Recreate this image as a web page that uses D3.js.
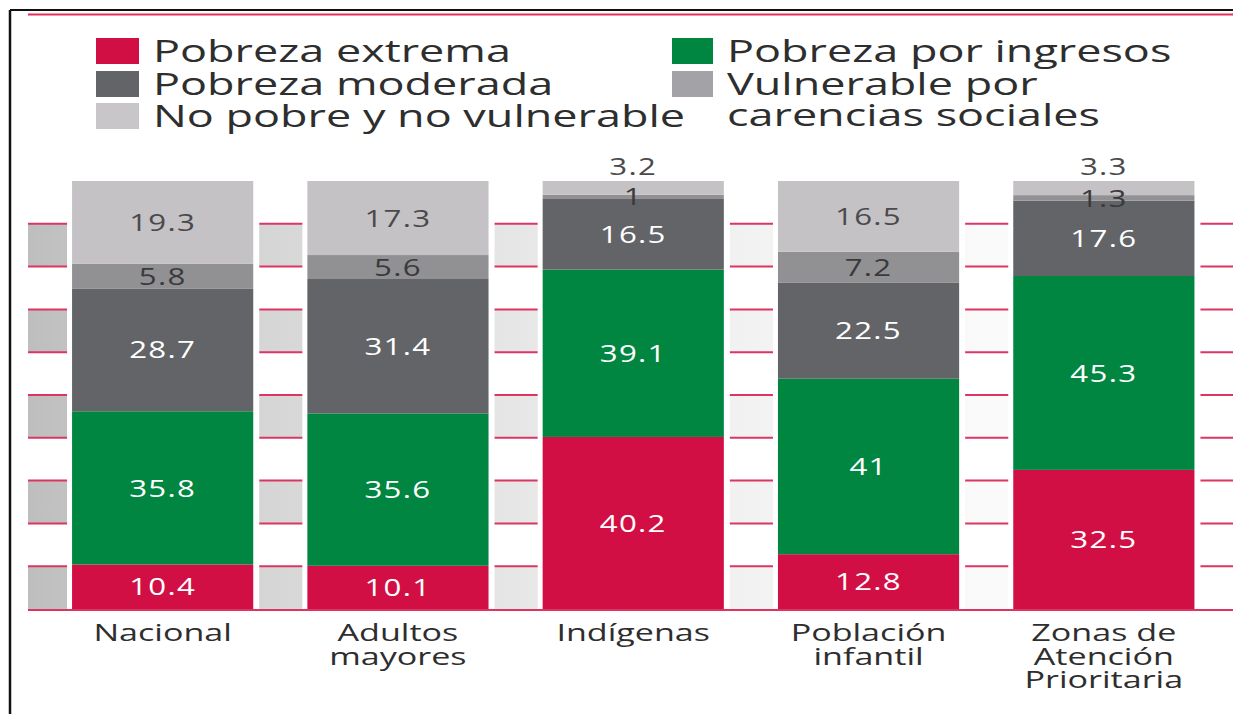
<!DOCTYPE html>
<html>
<head>
<meta charset="utf-8">
<script src="https://cdn.jsdelivr.net/npm/d3@7"></script>
<style>
  body { margin: 0; background: #fff; }
  svg { display: block; font-family: "Open Sans", sans-serif; }
</style>
</head>
<body>
<div id="chart"></div>
<script>
"use strict"

// data (percent of population)
var categories = ['Nacional', 'Adultos mayores', 'Indígenas', 'Población infantil', 'Zonas de Atención Prioritaria'];
var categoryLines = [['Nacional'], ['Adultos', 'mayores'], ['Indígenas'], ['Población', 'infantil'], ['Zonas de', 'Atención', 'Prioritaria']];
var seriesKeys = ['extrema', 'ingresos', 'moderada', 'vulnerable', 'nopobre'];
var pobrezaExtrema = [10.4, 10.1, 40.2, 12.8, 32.5];
var pobrezaIngresos = [35.8, 35.6, 39.1, 41, 45.3];
var pobrezaModerada = [28.7, 31.4, 16.5, 22.5, 17.6];
var vulnerableCarencias = [5.8, 5.6, 1, 7.2, 1.3];
var noPobre = [19.3, 17.3, 3.2, 16.5, 3.3];
var gridBands = [[0, 10], [20, 30], [40, 50], [60, 70], [80, 90]];

var colors = {extrema: '#d20f45', ingresos: '#008641', moderada: '#636468', vulnerable: '#919093', nopobre: '#c4c2c4'};
var legendColors = {extrema: '#d20f45', ingresos: '#008641', moderada: '#636468', vulnerable: '#a3a2a6', nopobre: '#c8c6c8'};
var labelColors = {extrema: '#ffffff', ingresos: '#ffffff', moderada: '#ffffff', vulnerable: '#3a3a3c', nopobre: '#4a4a4c'};

// legend: two columns, first column three rows
var legendItems = [
    {key: 'extrema', lines: ['Pobreza extrema'], col: 0, row: 0},
    {key: 'moderada', lines: ['Pobreza moderada'], col: 0, row: 1},
    {key: 'nopobre', lines: ['No pobre y no vulnerable'], col: 0, row: 2},
    {key: 'ingresos', lines: ['Pobreza por ingresos'], col: 1, row: 0},
    {key: 'vulnerable', lines: ['Vulnerable por', 'carencias sociales'], col: 1, row: 1}
];

var W = 1233, H = 714;

var tableData = categories.map(function(c, i) {
    return {name: c, extrema: pobrezaExtrema[i], ingresos: pobrezaIngresos[i], moderada: pobrezaModerada[i],
        vulnerable: vulnerableCarencias[i], nopobre: noPobre[i]};
});

var svg = d3.select('#chart').append('svg')
    .attr('width', W)
    .attr('height', H);

// the picture is widened, so widen the text too
function stretch(sel, k) {
    sel.each(function() {
        var len = this.getComputedTextLength();
        d3.select(this).attr('textLength', len * k).attr('lengthAdjust', 'spacingAndGlyphs');
    });
}

var x = d3.scaleBand()
    .domain(categories)
    .range([45, 1221.5])
    .paddingInner(0.23)
    .paddingOuter(0.115);
var y = d3.scaleLinear()
    .domain([0, 100])
    .range([609, 181]);

// background bands fade from gray to white
var grad = svg.append('defs').append('linearGradient')
    .attr('id', 'bandGrad')
    .attr('gradientUnits', 'userSpaceOnUse')
    .attr('x1', 28).attr('x2', W).attr('y1', 0).attr('y2', 0);
[[0, '#bebebe'], [0.2, '#d6d6d6'], [0.4, '#e6e6e6'], [0.6, '#f2f2f2'], [0.8, '#fafafa'], [0.97, '#ffffff']].forEach(function(s) {
    grad.append('stop').attr('offset', s[0]).attr('stop-color', s[1]);
});

var gridX0 = 28, gridX1 = W;
svg.append('g').selectAll('rect')
    .data(gridBands)
    .enter()
    .append('rect')
    .attr('x', gridX0)
    .attr('width', gridX1 - gridX0)
    .attr('y', function(d) { return y(d[1]); })
    .attr('height', function(d) { return y(d[0]) - y(d[1]); })
    .attr('fill', 'url(#bandGrad)');

var gridLines = [];
gridBands.forEach(function(b) { gridLines.push(b[0], b[1]); });
svg.append('g').selectAll('line')
    .data(gridLines.filter(function(v) { return v > 0; }))
    .enter()
    .append('line')
    .attr('x1', gridX0).attr('x2', gridX1)
    .attr('y1', function(d) { return y(d); })
    .attr('y2', function(d) { return y(d); })
    .attr('stroke', '#dc3563')
    .attr('stroke-width', 2);

// white margins around the bars
svg.append('g').selectAll('rect')
    .data(categories)
    .enter()
    .append('rect')
    .attr('x', function(d) { return x(d) - 5; })
    .attr('width', x.bandwidth() + 11)
    .attr('y', y(100) - 5)
    .attr('height', y(0) - y(100) + 5)
    .attr('fill', '#fff');

var stackedData = d3.stack().keys(seriesKeys)(tableData);

svg.append('g')
    .selectAll('g')
    .data(stackedData)
    .enter()
    .append('g')
    .attr('fill', function(d) { return colors[d.key]; })
    .selectAll('rect')
    .data(function(d) { return d; })
    .enter()
    .append('rect')
    .attr('x', function(d) { return x(d.data.name); })
    .attr('y', function(d) { return y(d[1]); })
    .attr('width', x.bandwidth())
    .attr('height', function(d) { return y(d[0]) - y(d[1]); });

// baseline
svg.append('line')
    .attr('x1', gridX0).attr('x2', gridX1)
    .attr('y1', y(0) + 1).attr('y2', y(0) + 1)
    .attr('stroke', '#dc3563')
    .attr('stroke-width', 2);

// value labels
var labels = [];
stackedData.forEach(function(s) {
    s.forEach(function(d) {
        var v = d[1] - d[0];
        var cy = (y(d[0]) + y(d[1])) / 2;
        // thin top segment: label goes above the bar
        if (s.key === 'nopobre' && v < 5) cy = y(100) - 15;
        labels.push({key: s.key, name: d.data.name, value: v, cy: cy});
    });
});
svg.append('g').selectAll('text')
    .data(labels)
    .enter()
    .append('text')
    .attr('x', function(d) { return x(d.name) + x.bandwidth() / 2; })
    .attr('y', function(d) { return d.cy; })
    .attr('dy', '0.36em')
    .attr('text-anchor', 'middle')
    .attr('font-size', 24)
    .attr('letter-spacing', 1)
    .attr('fill', function(d) { return labelColors[d.key]; })
    .text(function(d) { return d3.format('.1~f')(d.value); })
    .call(stretch, 1.3);

// category labels, one text per line
categories.forEach(function(c, i) {
    categoryLines[i].forEach(function(t, j) {
        svg.append('text')
            .attr('x', x(c) + x.bandwidth() / 2)
            .attr('y', 641 + j * 23.5)
            .attr('text-anchor', 'middle')
            .attr('font-size', 24)
            .attr('fill', '#2e2e2e')
            .text(t)
            .call(stretch, 1.42);
    });
});

// legend
var legendColX = [96, 672], legendRowY = [38, 71, 103];
var leg = svg.append('g').selectAll('g')
    .data(legendItems)
    .enter()
    .append('g');
leg.append('rect')
    .attr('x', function(d) { return legendColX[d.col]; })
    .attr('y', function(d) { return legendRowY[d.row]; })
    .attr('width', function(d) { return d.col === 0 ? 43 : 41; })
    .attr('height', 26)
    .attr('fill', function(d) { return legendColors[d.key]; });
leg.each(function(d) {
    var g = d3.select(this);
    d.lines.forEach(function(t, j) {
        g.append('text')
            .attr('x', legendColX[d.col] + (d.col === 0 ? 57 : 55))
            .attr('y', legendRowY[d.row] + 24 + j * 31)
            .attr('font-size', 31)
            .attr('fill', '#2e2e2e')
            .text(t)
            .call(stretch, 1.45);
    });
});

// frame
svg.append('line').attr('x1', 10).attr('x2', W).attr('y1', 10).attr('y2', 10)
    .attr('stroke', '#111').attr('stroke-width', 2);
svg.append('line').attr('x1', 10).attr('x2', 10).attr('y1', 10).attr('y2', H)
    .attr('stroke', '#111').attr('stroke-width', 2.5);
svg.append('line').attr('x1', 28).attr('x2', W).attr('y1', 14.5).attr('y2', 14.5)
    .attr('stroke', '#e0305a').attr('stroke-width', 2);
</script>
</body>
</html>
